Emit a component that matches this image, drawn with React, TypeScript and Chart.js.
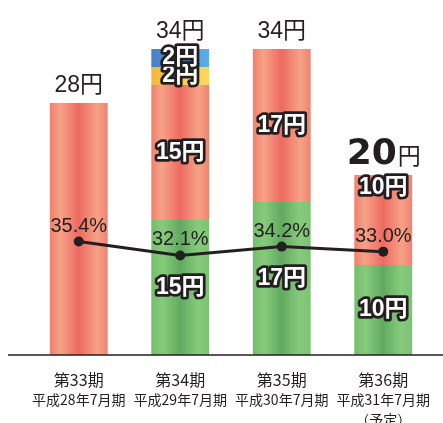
import React, { useEffect, useRef } from 'react';
import { Chart, registerables } from 'chart.js';

Chart.register(...registerables);

// ---- data ----
const periods = ['第33期', '第34期', '第35期', '第36期'];
const fiscalTerms = [['平成28年7月期'], ['平成29年7月期'], ['平成30年7月期'], ['平成31年7月期', '（予定）']];
const greenValues = [null, 15, 17, 10];
const redValues = [28, 15, 17, 10];
const yellowValues = [null, 2, null, null];
const blueValues = [null, 2, null, null];
const payoutRatio = [35.4, 32.1, 34.2, 33.0];
const unit = '円';

const segmentSeries = [greenValues, redValues, yellowValues, blueValues];
const totals = periods.map((_, i) => segmentSeries.reduce((s, a) => s + (a[i] ?? 0), 0));

// ---- styles ----
const INK = '#231f20';
const SANS = "'Liberation Sans', 'Noto Sans CJK JP', sans-serif";
const CJK = "'Noto Sans CJK JP', sans-serif";
const BAR_PCT = 0.57;

const greenStops: [number, string][] = [[0, '#74bd6c'], [0.2, '#86cb7b'], [0.5, '#62a961'], [0.8, '#86cb7b'], [1, '#7bc373']];
const redStops: [number, string][] = [[0, '#f0806e'], [0.18, '#f6a287'], [0.5, '#ee6a61'], [0.82, '#f6a287'], [1, '#f0826f']];
const yellowStops: [number, string][] = [[0, '#f5b73e'], [0.5, '#fbcb52'], [1, '#fdd760']];
const blueStops: [number, string][] = [[0, '#4a7fc5'], [0.5, '#4f95d6'], [1, '#5cb0e6']];

const makeGradient = (stops: [number, string][]) => (ctx: any) => {
  const chart = ctx.chart;
  const xs = chart.scales && chart.scales.x;
  const flat = stops[Math.floor(stops.length / 2)][1];
  if (!chart.chartArea || !xs || ctx.type !== 'data') return flat;
  const cx = xs.getPixelForValue(ctx.dataIndex);
  const half = (xs.width / periods.length) * BAR_PCT / 2;
  if (!isFinite(cx) || !isFinite(half) || half <= 0) return flat;
  const g = chart.ctx.createLinearGradient(cx - half, 0, cx + half, 0);
  stops.forEach(([o, c]) => g.addColorStop(o, c));
  return g;
};

const labelPlugin = {
  id: 'valueLabels',
  afterDatasetsDraw(chart: any) {
    const c = chart.ctx;
    const ys = chart.scales.y;
    const yb = ys.getPixelForValue(0);
    c.save();

    // baseline rule
    c.strokeStyle = INK;
    c.lineWidth = 1.6;
    c.beginPath();
    c.moveTo(8, yb);
    c.lineTo(chart.width, yb);
    c.stroke();

    // percentage labels
    const lineMeta = chart.getDatasetMeta(0);
    c.font = `20px ${SANS}`;
    c.fillStyle = INK;
    c.textAlign = 'center';
    c.textBaseline = 'alphabetic';
    const pctBoxes = lineMeta.data.map((pt: any, i: number) => {
      const by = pt.y - 10;
      c.fillText(payoutRatio[i].toFixed(1) + '%', pt.x, by);
      return { top: by - 16, bottom: by + 2 };
    });

    // segment labels (white with dark outline)
    c.font = `bold 23px ${SANS}`;
    c.textBaseline = 'middle';
    c.lineJoin = 'round';
    segmentSeries.forEach((series, si) => {
      const meta = chart.getDatasetMeta(si + 1);
      meta.data.forEach((bar: any, i: number) => {
        const v = series[i];
        if (v == null) return;
        const count = segmentSeries.filter((s) => s[i] != null).length;
        if (count < 2) return;
        const top = Math.min(bar.y, bar.base);
        const bottom = Math.max(bar.y, bar.base);
        let cy = (top + bottom) / 2;
        const pb = pctBoxes[i];
        if (cy - 11 < pb.bottom && cy + 11 > pb.top) cy = top + 13;
        const txt = `${v}${unit}`;
        c.lineWidth = 5.5;
        c.strokeStyle = INK;
        c.strokeText(txt, bar.x, cy);
        c.fillStyle = '#ffffff';
        c.fillText(txt, bar.x, cy);
      });
    });

    // totals above bars
    const last = periods.length - 1;
    c.fillStyle = INK;
    c.textBaseline = 'alphabetic';
    totals.forEach((t, i) => {
      const x = chart.scales.x.getPixelForValue(i);
      const y = ys.getPixelForValue(t) - 11;
      if (i === last) {
        const big = `bold 36px 'DejaVu Sans', ${SANS}`;
        const small = `23px ${SANS}`;
        c.font = big;
        const w1 = c.measureText(String(t)).width;
        c.font = small;
        const w2 = c.measureText(unit).width;
        const x0 = x - (w1 + w2) / 2;
        c.textAlign = 'left';
        c.font = big;
        c.fillText(String(t), x0, y);
        c.font = small;
        c.fillText(unit, x0 + w1 + 1, y);
      } else {
        c.textAlign = 'center';
        c.font = `23px ${SANS}`;
        c.fillText(`${t}${unit}`, x, y);
      }
    });
    c.restore();
  },
};

export default function App() {
  const ref = useRef<HTMLCanvasElement | null>(null);
  useEffect(() => {
    if (!ref.current) return;
    const chart = new Chart(ref.current, {
      type: 'bar',
      data: {
        labels: periods,
        datasets: [
          {
            type: 'line',
            label: '配当性向',
            data: payoutRatio,
            yAxisID: 'y1',
            borderColor: INK,
            backgroundColor: INK,
            borderWidth: 3,
            pointRadius: 5,
            pointBackgroundColor: INK,
            pointBorderWidth: 0,
            tension: 0,
            order: 0,
          } as any,
          { type: 'bar', label: 'green', data: greenValues, backgroundColor: makeGradient(greenStops), order: 1, yAxisID: 'y' } as any,
          { type: 'bar', label: 'red', data: redValues, backgroundColor: makeGradient(redStops), order: 1, yAxisID: 'y' } as any,
          { type: 'bar', label: 'yellow', data: yellowValues, backgroundColor: makeGradient(yellowStops), order: 1, yAxisID: 'y' } as any,
          { type: 'bar', label: 'blue', data: blueValues, backgroundColor: makeGradient(blueStops), order: 1, yAxisID: 'y' } as any,
        ],
      },
      options: {
        responsive: false,
        animation: false,
        devicePixelRatio: 1,
        layout: { padding: { left: 28, right: 9, top: 13, bottom: 0 } },
        datasets: { bar: { barPercentage: BAR_PCT, categoryPercentage: 1, borderWidth: 0 } },
        plugins: { legend: { display: false }, tooltip: { enabled: false } },
        scales: {
          x: {
            type: 'category',
            offset: true,
            stacked: true,
            grid: { display: false, drawTicks: false },
            border: { display: false },
            ticks: { color: INK, font: { family: CJK, size: 16, lineHeight: 1.2 }, padding: 15, maxRotation: 0, autoSkip: false },
            afterFit: (s: any) => { s.height = 34; },
          },
          x2: {
            type: 'category',
            labels: fiscalTerms as any,
            position: 'bottom',
            offset: true,
            weight: 1,
            grid: { display: false, drawTicks: false },
            border: { display: false },
            ticks: { color: INK, font: { family: CJK, size: 14, lineHeight: 20 / 14 }, padding: 1, maxRotation: 0, autoSkip: false },
            afterFit: (s: any) => { s.height = 34; },
          },
          y: { stacked: true, display: false, min: 0, max: 38 },
          y1: { display: false, min: 8.4, max: 89.8 },
        } as any,
      },
      plugins: [labelPlugin],
    });
    return () => chart.destroy();
  }, []);
  return (
    <div style={{ position: 'fixed', left: 0, top: 0, width: 443, height: 423, background: '#fff' }}>
      <canvas ref={ref} width={443} height={423} style={{ display: 'block', width: 443, height: 423 }} />
    </div>
  );
}
